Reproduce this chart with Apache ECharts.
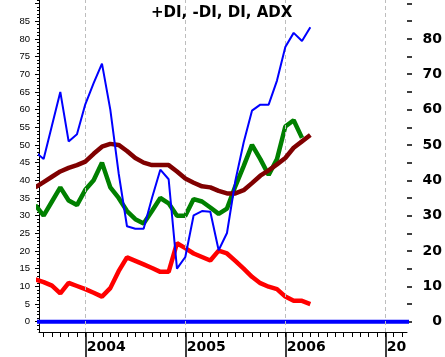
<!DOCTYPE html>
<html>
<head>
<meta charset="utf-8">
<script src="https://cdn.jsdelivr.net/npm/echarts@6/dist/echarts.min.js"></script>
<style>html,body{margin:0;padding:0;background:#fff;}#c{width:445px;height:357px;}</style>
</head>
<body>
<div id="c"></div>
<script>
// months counted from Jan 2003 (12 = Jan 2004)
const months = [6,7,8,9,10,11,12,13,14,15,16,17,18,19,20,21,22,23,24,25,26,27,28,29,30,31,32,33,34,35,36,37,38,39];
const plusDI = [48,46,55.5,65,51,53,61.5,67.5,73,60,42,27,26.3,26.3,35,43,40.3,15,18.3,30.1,31.3,31.1,20.2,25.1,39.8,50.7,59.7,61.4,61.4,68.2,77.7,81.7,79.4,83.3];
const diLine = [33,30,34,38,34.3,33,37.3,40,45,38,35,31.3,29,27.8,31.3,35,33.5,30,30,34.7,34,32.3,30.5,32,38.3,44,50,46,41.5,46,55.2,57,52];
const adx = [38,39.5,41,42.5,43.5,44.3,45.3,47.5,49.5,50.3,50,48.3,46.3,45,44.3,44.3,44.3,42.5,40.5,39.3,38.3,38,37,36.3,36.3,37.2,39.2,41.3,42.8,44.5,46.3,49.2,51,52.8];
const minusDI = [12,11.2,10.2,8,11,10.1,9.2,8.2,7.1,9.5,14.3,18.2,17.2,16.2,15.2,14.1,14.1,22.2,20.8,19.3,18.3,17.3,20.1,19.3,17.2,15,12.7,10.9,9.9,9.2,7.1,5.9,5.9,5.0];
const zeroSpan = [6, 51];
const zeroVals = [0, 0];
const yearTicks = [12, 24, 36, 48];
const yearLabels = ['2004', '2005', '2006', '20'];
const leftLabels = [0,5,10,15,20,25,30,35,40,45,50,55,60,65,70,75,80,85];
const rightLabels = [0,10,20,30,40,50,60,70,80];

const X_MIN = 6.444, X_MAX = 50.6, Y_MIN = -2.91, Y_MAX = 91.0;
const monthTicks = []; for (let m = 7; m <= 50; m++) monthTicks.push(m);
const majorY = []; for (let v = 0; v <= 90; v += 5) majorY.push(v);
const minorY = []; for (let v = -2; v <= 91; v++) minorY.push(v);

function pairs(xs, vals) { return vals.map((v, i) => [xs[i], v]); }

const chart = echarts.init(document.getElementById('c'), null, {renderer: 'canvas'});
const black = '#000';
chart.setOption({
  animation: false,
  backgroundColor: '#fff',
  title: {
    text: '+DI, -DI, DI, ADX', left: 151, top: 6, padding: 0,
    textStyle: {fontFamily: 'DejaVu Sans', fontWeight: 'bold', fontSize: 15, color: black}
  },
  grid: {left: 39, right: 38, top: 0, bottom: 25, containLabel: false},
  xAxis: [
    {type: 'value', min: X_MIN, max: X_MAX, position: 'bottom',
     axisLine: {show: true, onZero: false, lineStyle: {color: black, width: 1}},
     axisTick: {show: true, customValues: monthTicks, length: 5, lineStyle: {color: black}},
     axisLabel: {show: false}, splitLine: {show: false}},
    {type: 'value', min: X_MIN, max: X_MAX, position: 'bottom',
     axisLine: {show: false, onZero: false},
     axisTick: {show: true, customValues: yearTicks, length: 25, lineStyle: {color: black, width: 1.5}},
     axisLabel: {show: true, customValues: yearTicks, align: 'left', verticalAlign: 'middle', margin: 15.5,
       padding: [0, 0, 0, 1.5],
       formatter: v => yearLabels[yearTicks.indexOf(Math.round(v))] || '',
       fontFamily: 'DejaVu Sans', fontWeight: 'bold', fontSize: 14, color: black},
     splitLine: {show: false}}
  ],
  yAxis: [
    {type: 'value', min: Y_MIN, max: Y_MAX, position: 'left',
     axisLine: {show: true, onZero: false, lineStyle: {color: black, width: 1}},
     axisTick: {show: true, customValues: majorY, length: 4, lineStyle: {color: black}},
     axisLabel: {show: true, customValues: leftLabels, margin: 9, fontFamily: 'Liberation Sans', fontSize: 9.5, color: black},
     splitLine: {show: false}},
    {type: 'value', min: Y_MIN, max: Y_MAX, position: 'left',
     axisLine: {show: false, onZero: false},
     axisTick: {show: true, customValues: minorY, length: 2, lineStyle: {color: black}},
     axisLabel: {show: false}, splitLine: {show: false}},
    {type: 'value', min: Y_MIN, max: Y_MAX, position: 'right',
     axisLine: {show: false, onZero: false},
     axisTick: {show: true, customValues: majorY, length: 5, lineStyle: {color: black, width: 1.5}},
     axisLabel: {show: true, customValues: rightLabels, align: 'right', margin: 35,
       fontFamily: 'DejaVu Sans', fontWeight: 'bold', fontSize: 14, color: black},
     splitLine: {show: false}}
  ],
  series: [
    {type: 'line', name: 'grid', data: [], z: 1, silent: true,
     markLine: {silent: true, symbol: ['none', 'none'], label: {show: false},
       lineStyle: {type: [4, 3], color: '#bdbdbd', width: 1},
       data: yearTicks.map(v => ({xAxis: v}))}},
    {type: 'line', name: 'DI', data: pairs(zeroSpan, zeroVals), showSymbol: false, z: 2,
     lineStyle: {color: '#0000ff', width: 4}},
    {type: 'line', name: '-DI', data: pairs(months, minusDI), showSymbol: false, z: 3,
     lineStyle: {color: '#ff0000', width: 4.5}},
    {type: 'line', name: 'DI line', data: pairs(months, diLine), showSymbol: false, z: 4,
     lineStyle: {color: '#008000', width: 4.5}},
    {type: 'line', name: 'ADX', data: pairs(months, adx), showSymbol: false, z: 5,
     lineStyle: {color: '#800000', width: 4.5}},
    {type: 'line', name: '+DI', data: pairs(months, plusDI), showSymbol: false, z: 6,
     lineStyle: {color: '#0000ff', width: 2}}
  ]
});
</script>
</body>
</html>
